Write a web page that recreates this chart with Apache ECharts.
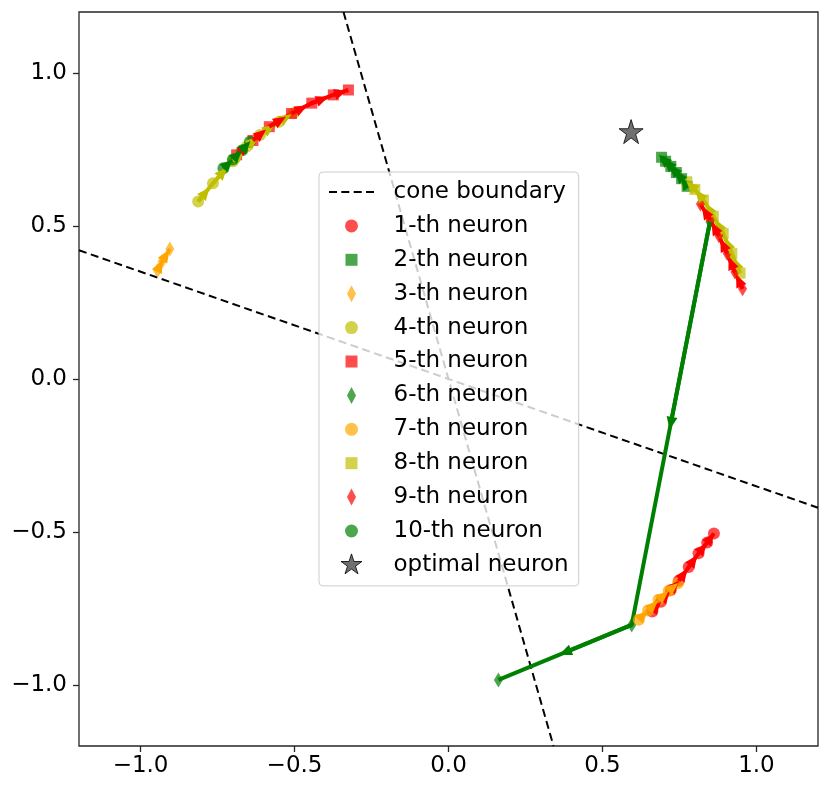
<!DOCTYPE html>
<html lang="en">
  <head>
    <meta charset="UTF-8" />
    <title>neuron trajectories</title>
    <script src="https://cdn.jsdelivr.net/npm/echarts@6/dist/echarts.min.js"></script>
    <style>
      html, body { margin: 0; padding: 0; background: #fff; }
    </style>
  </head>
  <body>
    <div id="chart" style="width: 830px; height: 792px"></div>

    <script>
      // tick values for both axes
      var ticks = [-1.0, -0.5, 0.0, 0.5, 1.0];

      // cone boundary (two rays through the origin)
      var coneA = [[-0.341, 1.2], [0.341, -1.2]];
      var coneB = [[-1.2, 0.421], [1.2, -0.421]];

      // trajectories of each neuron
      var neuron1 = [[0.662, -0.760], [0.690, -0.728], [0.722, -0.690], [0.748, -0.660], [0.780, -0.615], [0.812, -0.570], [0.840, -0.535], [0.862, -0.505]];
      var neuron2 = [[0.775, 0.630], [0.757, 0.655], [0.740, 0.675], [0.722, 0.695], [0.705, 0.712], [0.692, 0.725]];
      var neuron3 = [[-0.945, 0.355], [-0.930, 0.385], [-0.905, 0.425]];
      var neuron4 = [[-0.813, 0.580], [-0.765, 0.640], [-0.700, 0.712], [-0.655, 0.760], [-0.612, 0.798], [-0.550, 0.841], [-0.504, 0.869]];
      var neuron5 = [[-0.688, 0.733], [-0.635, 0.780], [-0.582, 0.825], [-0.510, 0.868], [-0.444, 0.902], [-0.374, 0.929], [-0.325, 0.945]];
      var neuron6 = [[0.849, 0.514], [0.595, -0.804], [0.162, -0.984]];
      var neuron7 = [[0.618, -0.787], [0.648, -0.757], [0.682, -0.722], [0.715, -0.693], [0.745, -0.668]];
      var neuron8 = [[0.947, 0.346], [0.920, 0.410], [0.892, 0.476], [0.860, 0.532], [0.828, 0.585], [0.800, 0.620], [0.774, 0.645]];
      var neuron9 = [[0.955, 0.295], [0.930, 0.350], [0.905, 0.410], [0.878, 0.468], [0.850, 0.520], [0.818, 0.572]];
      var neuron10 = [[-0.731, 0.689], [-0.700, 0.718], [-0.670, 0.748], [-0.645, 0.776]];
      var optimal = [[0.593, 0.809]];

      var neurons = [neuron1, neuron2, neuron3, neuron4, neuron5, neuron6, neuron7, neuron8, neuron9, neuron10];

      // matplotlib-like colour / marker cycle
      var rgb = ["255,0,0", "0,128,0", "255,165,0", "191,191,0"];
      var circle = "circle";
      var square = "rect";
      var thinDiamond = "path://M3,0L6,5L3,10L0,5Z";
      var markers = [circle, square, thinDiamond];
      var markerSizes = [12, 11, [9, 15]];

      // legend icons drawn inside a 60x22 box so they keep their own size
      var box = "path://M0,0M60,22";
      var legendIcons = [
        box + "M36.5,11A6.5,6.5,0,1,1,23.5,11A6.5,6.5,0,1,1,36.5,11Z",
        box + "M24,5h12v12h-12z",
        box + "M30,2.5L34.5,11L30,19.5L25.5,11Z",
      ];
      var dashIcon = box + "M7.5,10h8v2h-8zM19.8,10h8v2h-8zM32.2,10h8v2h-8zM44.5,10h8v2h-8z";
      var starIcon = box + "M30,0L32.47,7.6L40.46,7.6L33.99,12.3L36.47,19.9L30,15.2L23.53,19.9L26.01,12.3L19.54,7.6L27.53,7.6Z";
      var starSymbol = "path://M50,0L61.23,34.55L97.55,34.55L68.16,55.9L79.39,90.45L50,69.1L20.61,90.45L31.84,55.9L2.45,34.55L38.77,34.55Z";

      function fmt(v) {
        return (v < 0 ? "\u2212" : "") + Math.abs(v).toFixed(1);
      }

      var font = "DejaVu Sans";
      var series = [];
      var legendData = [{ name: "cone boundary", icon: dashIcon, itemStyle: { color: "#000" } }];

      [coneA, coneB].forEach(function (seg) {
        series.push({
          name: "cone boundary",
          type: "line",
          data: seg,
          symbol: "none",
          lineStyle: { color: "#000", width: 2, type: [8, 4.5] },
          z: 1,
        });
      });

      neurons.forEach(function (pts, i) {
        var c = rgb[i % 4];
        var m = i % 3;
        // an arrow half way along every step
        var arrows = [];
        for (var k = 0; k + 1 < pts.length; k++) {
          var mid = [(pts[k][0] + pts[k + 1][0]) / 2, (pts[k][1] + pts[k + 1][1]) / 2];
          arrows.push([{ coord: pts[k] }, { coord: mid }]);
        }
        var name = i + 1 + "-th neuron";
        series.push({
          name: name,
          type: "line",
          data: pts,
          symbol: markers[m],
          symbolSize: markerSizes[m],
          showAllSymbol: true,
          color: "rgb(" + c + ")",
          itemStyle: { color: "rgba(" + c + ",0.7)" },
          lineStyle: { color: "rgb(" + c + ")", width: 4 },
          markLine: {
            silent: true,
            symbol: ["none", "triangle"],
            symbolSize: [11, 13],
            label: { show: false },
            lineStyle: { color: "rgb(" + c + ")", width: 4, type: "solid" },
            data: arrows,
          },
          z: 2,
        });
        legendData.push({ name: name, icon: legendIcons[m], itemStyle: { color: "rgba(" + c + ",0.7)" } });
      });

      series.push({
        name: "optimal neuron",
        type: "scatter",
        data: optimal,
        symbol: starSymbol,
        symbolSize: 24,
        itemStyle: { color: "rgba(0,0,0,0.7)", borderColor: "#000", borderWidth: 1 },
        z: 3,
      });
      legendData.push({ name: "optimal neuron", icon: starIcon, itemStyle: { color: "rgba(0,0,0,0.7)", borderColor: "#000", borderWidth: 1 } });

      var axisCommon = {
        type: "value",
        min: -1.2,
        max: 1.2,
        splitLine: { show: false },
        axisLine: { show: false, onZero: false },
        axisTick: { show: true, length: 6, customValues: ticks, lineStyle: { color: "#262626", width: 1.3 } },
        axisLabel: { customValues: ticks, formatter: fmt, color: "#000", fontFamily: font, fontSize: 23 },
      };

      var myChart = echarts.init(document.getElementById("chart"));
      myChart.setOption({
        animation: false,
        backgroundColor: "#fff",
        grid: {
          left: 79,
          right: 12,
          top: 12,
          bottom: 46,
          show: true,
          borderColor: "#262626",
          borderWidth: 1.3,
        },
        xAxis: Object.assign({}, axisCommon, {
          axisLabel: Object.assign({}, axisCommon.axisLabel, { margin: 9 }),
        }),
        yAxis: Object.assign({}, axisCommon, {
          axisLabel: Object.assign({}, axisCommon.axisLabel, { margin: 12 }),
        }),
        legend: {
          orient: "vertical",
          left: 319,
          top: 172,
          padding: [8.5, 10, 9.5, 2],
          itemWidth: 60,
          itemHeight: 22,
          itemGap: 10.9,
          backgroundColor: "rgba(255,255,255,0.8)",
          borderColor: "#cccccc",
          borderWidth: 1,
          borderRadius: 4,
          selectedMode: false,
          textStyle: { fontFamily: font, fontSize: 23, color: "#000", lineHeight: 23, padding: [0, 0, 0, 7] },
          data: legendData,
        },
        series: series,
      });
    </script>
  </body>
</html>
